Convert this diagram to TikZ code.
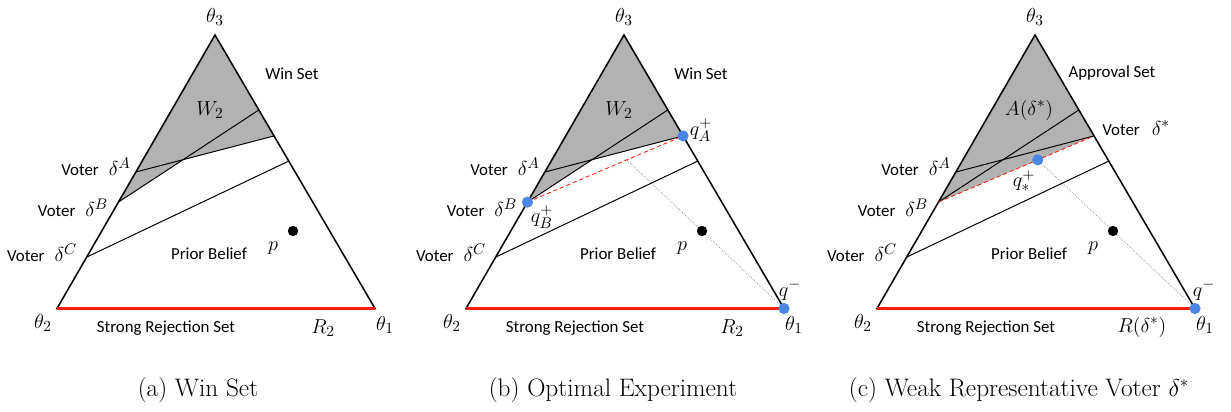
\documentclass[tikz,border=0pt]{standalone}
\usepackage{fontspec}
\setsansfont{Carlito}
\usepackage{tikz}
\usetikzlibrary{calc}

\definecolor{winfillgray}{RGB}{178,178,178}
\definecolor{rejred}{RGB}{245,30,10}
\definecolor{qblue}{RGB}{74,134,232}

\begin{document}
\begin{tikzpicture}[
    x=0.025cm, y=-0.025cm,
    edge/.style={line width=1.1pt, line join=miter},
    voterline/.style={line width=0.7pt},
    winfill/.style={fill=winfillgray},
    rejline/.style={draw=rejred, line width=2.2pt},
    cutline/.style={draw=rejred, densely dashed, line width=0.6pt},
    ray/.style={draw=gray, densely dotted, line width=0.5pt},
    txt/.style={font=\sffamily\fontsize{12}{14}\selectfont, inner sep=1pt},
    mlab/.style={font=\fontsize{15}{18}\selectfont, inner sep=1pt},
    captext/.style={font=\fontsize{18}{22}\selectfont},
    prior/.style={circle, fill=black, inner sep=0pt, minimum size=0.26cm},
    qdot/.style={circle, fill=qblue, inner sep=0pt, minimum size=0.28cm},
]
\useasboundingbox (0,0) rectangle (1231,412);

% corners and cut points of each simplex
\foreach \pn/\dx in {a/0, b/409, c/820} {
  \begin{scope}[xshift=\dx*0.025cm]
    \coordinate (\pn-T3) at (215,35);
    \coordinate (\pn-T2) at (57,308.5);
    \coordinate (\pn-T1) at (375,308.5);
    \coordinate (\pn-dA) at ($(\pn-T2)!0.499!(\pn-T3)$);
    \coordinate (\pn-eA) at ($(\pn-T1)!0.631!(\pn-T3)$);
    \coordinate (\pn-dB) at ($(\pn-T2)!0.389!(\pn-T3)$);
    \coordinate (\pn-eB) at ($(\pn-T1)!0.726!(\pn-T3)$);
    \coordinate (\pn-dC) at ($(\pn-T2)!0.188!(\pn-T3)$);
    \coordinate (\pn-eC) at ($(\pn-T1)!0.539!(\pn-T3)$);
    \coordinate (\pn-x) at (intersection of \pn-dA--\pn-eA and \pn-dB--\pn-eB);
    \coordinate (\pn-p) at (293,231);
    \coordinate (\pn-q) at (intersection of \pn-T1--\pn-p and \pn-dB--\pn-eA);
  \end{scope}
}

% shaded sets
\fill[winfill] (a-T3) -- (a-eA) -- (a-x) -- (a-dB) -- cycle;
\fill[winfill] (b-T3) -- (b-eA) -- (b-x) -- (b-dB) -- cycle;
\fill[winfill] (c-T3) -- (c-eA) -- (c-dB) -- cycle;

% rays from q^- through p
\draw[ray] (b-T1) -- (b-q);
\draw[ray] (c-T1) -- (c-q);

% common parts
\foreach \pn/\dx in {a/0, b/409, c/820} {
  \begin{scope}[xshift=\dx*0.025cm]
    \draw[voterline] (\pn-dA) -- (\pn-eA);
    \draw[voterline] (\pn-dB) -- (\pn-eB);
    \draw[voterline] (\pn-dC) -- (\pn-eC);
    \draw[edge] (\pn-T1) -- (\pn-T3) -- (\pn-T2) -- cycle;
    \draw[rejline] (\pn-T2) -- (\pn-T1);
    \node[prior] (\pn-dot) at (\pn-p) {};
    \node[mlab] (\pn-t3) at (215,17) {$\theta_3$};
    \node[mlab] (\pn-t2) at (43,323) {$\theta_2$};
    \node[mlab] (\pn-t1) at (385,325) {$\theta_1$};
    \node[txt] (\pn-vA) at (96,167) {Voter\hspace{0.25cm}{\fontsize{15}{18}\selectfont$\delta^A$}};
    \node[txt] (\pn-vB) at (73,208) {Voter\hspace{0.25cm}{\fontsize{15}{18}\selectfont$\delta^B$}};
    \node[txt] (\pn-vC) at (42,253) {Voter\hspace{0.25cm}{\fontsize{15}{18}\selectfont$\delta^C$}};
    \node[txt] (\pn-prior) at (209,254) {Prior Belief};
    \node[mlab] (\pn-plab) at (273,248) {$p$};
    \node[txt] (\pn-rej) at (166,328) {Strong Rejection Set};
  \end{scope}
}

% (a) win set
\node[txt] (a-win) at (292,74) {Win Set};
\node[mlab] (a-W) at (210,110) {$W_2$};
\node[mlab] (a-R) at (323,328) {$R_2$};

% (b) optimal experiment
\begin{scope}[xshift=409*0.025cm]
  \draw[cutline] (b-dB) -- (b-eA);
  \node[qdot] (b-qA) at (b-eA) {};
  \node[qdot] (b-qB) at (b-dB) {};
  \node[qdot] (b-qm) at (b-T1) {};
  \node[txt] (b-win) at (292,74) {Win Set};
  \node[mlab] (b-W) at (210,110) {$W_2$};
  \node[mlab] (b-R) at (323,328) {$R_2$};
  \node[mlab] (b-qAlab) at (292,130) {$q_A^+$};
  \node[mlab] (b-qBlab) at (133,217) {$q_B^+$};
  \node[mlab] (b-qmlab) at (381,290) {$q^-$};
\end{scope}

% (c) weak representative voter
\begin{scope}[xshift=820*0.025cm]
  \draw[cutline] (c-dB) -- (c-eA);
  \node[qdot] (c-qs) at (c-q) {};
  \node[qdot] (c-qm) at (c-T1) {};
  \node[txt] (c-app) at (292,73) {Approval Set};
  \node[mlab] (c-A) at (209,110) {$A(\delta^*)$};
  \node[txt] (c-vs) at (316,128) {Voter\hspace{0.3cm}{\fontsize{15}{18}\selectfont$\delta^*$}};
  \node[mlab, inner sep=0pt] (c-qslab) at (204,181) {$q_*^+$};
  \node[mlab] (c-qmlab) at (384,290) {$q^-$};
  \node[mlab] (c-R) at (322,327) {$R(\delta^*)$};
\end{scope}

% captions
\node[captext] (capa) at (198,390) {(a) Win Set};
\node[captext] (capb) at (613,390) {(b) Optimal Experiment};
\node[captext] (capc) at (1019,390) {(c) Weak Representative Voter $\delta^*$};
\end{tikzpicture}
\end{document}
